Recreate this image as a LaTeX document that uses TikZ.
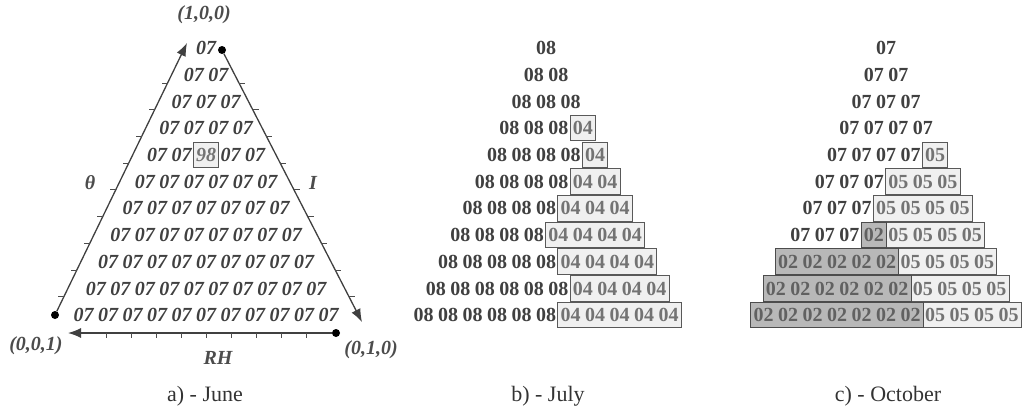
\documentclass[tikz,border=0pt]{standalone}
\usepackage{fontspec}
\setmainfont{Liberation Serif}
\usetikzlibrary{fit,arrows.meta,calc}
\pgfdeclarelayer{background}
\pgfsetlayers{background,main}
\tikzset{
  cell/.style={inner sep=0pt, minimum width=19pt, text height=13.5pt, text depth=0pt,
    font=\fontsize{20}{20}\selectfont\bfseries, text=black!75},
  boxcell/.style={cell, text=black!55},
  darkcell/.style={cell, text=black!62},
  acell/.style={cell, font=\fontsize{20}{20}\selectfont\bfseries\itshape},
  aboxcell/.style={acell, text=black!55},
  lightbox/.style={draw=black!65, fill=black!6, line width=0.9pt, inner xsep=2.5pt, inner ysep=5.8pt},
  darkbox/.style={draw=black!70, fill=black!28, line width=0.9pt, inner xsep=2.5pt, inner ysep=5.8pt},
  axis/.style={draw=black!75, line width=1.3pt},
  tip/.style={-{Latex[length=13pt,width=10pt]}},
  endpt/.style={circle, fill=black, inner sep=0pt, minimum size=8pt},
  coordlab/.style={font=\fontsize{20}{20}\selectfont\bfseries\itshape, text=black!70},
  caption/.style={font=\fontsize{22}{22}\selectfont, text=black!80},
  tick/.style={draw=black!70, line width=0.8pt},
}
\begin{document}
\begin{tikzpicture}[x=1pt,y=-1pt]
\useasboundingbox (0,0) rectangle (1025,416);

% ---- a) June ----
\foreach \row [count=\r] in {
  {07/acell},
  {07/acell,07/acell},
  {07/acell,07/acell,07/acell},
  {07/acell,07/acell,07/acell,07/acell},
  {07/acell,07/acell,98/aboxcell,07/acell,07/acell},
  {07/acell,07/acell,07/acell,07/acell,07/acell,07/acell},
  {07/acell,07/acell,07/acell,07/acell,07/acell,07/acell,07/acell},
  {07/acell,07/acell,07/acell,07/acell,07/acell,07/acell,07/acell,07/acell},
  {07/acell,07/acell,07/acell,07/acell,07/acell,07/acell,07/acell,07/acell,07/acell},
  {07/acell,07/acell,07/acell,07/acell,07/acell,07/acell,07/acell,07/acell,07/acell,07/acell},
  {07/acell,07/acell,07/acell,07/acell,07/acell,07/acell,07/acell,07/acell,07/acell,07/acell,07/acell}}
{
  \foreach \v/\s [count=\k] in \row
    \node[\s] (a-\r-\k) at ({206+(\k-(\r+1)/2)*24.5},{48+(\r-1)*26.7}) {\v};
}

% ---- b) July ----
\foreach \row [count=\r] in {
  {08/cell},
  {08/cell,08/cell},
  {08/cell,08/cell,08/cell},
  {08/cell,08/cell,08/cell,04/boxcell},
  {08/cell,08/cell,08/cell,08/cell,04/boxcell},
  {08/cell,08/cell,08/cell,08/cell,04/boxcell,04/boxcell},
  {08/cell,08/cell,08/cell,08/cell,04/boxcell,04/boxcell,04/boxcell},
  {08/cell,08/cell,08/cell,08/cell,04/boxcell,04/boxcell,04/boxcell,04/boxcell},
  {08/cell,08/cell,08/cell,08/cell,08/cell,04/boxcell,04/boxcell,04/boxcell,04/boxcell},
  {08/cell,08/cell,08/cell,08/cell,08/cell,08/cell,04/boxcell,04/boxcell,04/boxcell,04/boxcell},
  {08/cell,08/cell,08/cell,08/cell,08/cell,08/cell,04/boxcell,04/boxcell,04/boxcell,04/boxcell,04/boxcell}}
{
  \foreach \v/\s [count=\k] in \row
    \node[\s] (b-\r-\k) at ({546+(\k-(\r+1)/2)*24.5},{48+(\r-1)*26.7}) {\v};
}

% ---- c) October ----
\foreach \row [count=\r] in {
  {07/cell},
  {07/cell,07/cell},
  {07/cell,07/cell,07/cell},
  {07/cell,07/cell,07/cell,07/cell},
  {07/cell,07/cell,07/cell,07/cell,05/boxcell},
  {07/cell,07/cell,07/cell,05/boxcell,05/boxcell,05/boxcell},
  {07/cell,07/cell,07/cell,05/boxcell,05/boxcell,05/boxcell,05/boxcell},
  {07/cell,07/cell,07/cell,02/darkcell,05/boxcell,05/boxcell,05/boxcell,05/boxcell},
  {02/darkcell,02/darkcell,02/darkcell,02/darkcell,02/darkcell,05/boxcell,05/boxcell,05/boxcell,05/boxcell},
  {02/darkcell,02/darkcell,02/darkcell,02/darkcell,02/darkcell,02/darkcell,05/boxcell,05/boxcell,05/boxcell,05/boxcell},
  {02/darkcell,02/darkcell,02/darkcell,02/darkcell,02/darkcell,02/darkcell,02/darkcell,05/boxcell,05/boxcell,05/boxcell,05/boxcell}}
{
  \foreach \v/\s [count=\k] in \row
    \node[\s] (c-\r-\k) at ({886+(\k-(\r+1)/2)*24.5},{48+(\r-1)*26.7}) {\v};
}

% ---- cluster boxes behind the values ----
\begin{pgfonlayer}{background}
  \node[lightbox, fit=(a-5-3)] (boxa5) {};
  \node[lightbox, fit=(b-4-4)] (boxb4) {};
  \node[lightbox, fit=(b-5-5)] (boxb5) {};
  \node[lightbox, fit=(b-6-5)(b-6-6)] (boxb6) {};
  \node[lightbox, fit=(b-7-5)(b-7-7)] (boxb7) {};
  \node[lightbox, fit=(b-8-5)(b-8-8)] (boxb8) {};
  \node[lightbox, fit=(b-9-6)(b-9-9)] (boxb9) {};
  \node[lightbox, fit=(b-10-7)(b-10-10)] (boxb10) {};
  \node[lightbox, fit=(b-11-7)(b-11-11)] (boxb11) {};
  \node[lightbox, fit=(c-5-5)] (boxc5) {};
  \node[lightbox, fit=(c-6-4)(c-6-6)] (boxc6) {};
  \node[lightbox, fit=(c-7-4)(c-7-7)] (boxc7) {};
  \node[lightbox, fit=(c-8-5)(c-8-8)] (boxc8) {};
  \node[lightbox, fit=(c-9-6)(c-9-9)] (boxc9) {};
  \node[lightbox, fit=(c-10-7)(c-10-10)] (boxc10) {};
  \node[lightbox, fit=(c-11-8)(c-11-11)] (boxc11) {};
  \node[darkbox, fit=(c-8-4)] (dboxc8) {};
  \node[darkbox, fit=(c-9-1)(c-9-5)] (dboxc9) {};
  \node[darkbox, fit=(c-10-1)(c-10-6)] (dboxc10) {};
  \node[darkbox, fit=(c-11-1)(c-11-7)] (dboxc11) {};
\end{pgfonlayer}

% ---- ternary axes ----
\node[endpt] (p001) at (55,315) {};
\coordinate (q100) at (187,43);
\node[endpt] (p100) at (222,50) {};
\coordinate (q010) at (362,322);
\node[endpt] (p010) at (336,333) {};
\coordinate (q001) at (68,333);
\draw[axis,tip] (p001) -- (q100);
\draw[axis,tip] (p100) -- (q010);
\draw[axis,tip] (p010) -- (q001);

% ticks
\foreach \k in {0,...,8}{
  \pgfmathsetmacro\ty{83+26.7*\k}
  \draw[tick] ({55+(315-\ty)/272*132},\ty) -- ++(-6,0);
  \draw[tick] ({222+(\ty-50)/272*140},\ty) -- ++(6,0);
  \draw[tick] ({106+25*\k},333) -- ++(0,5);
}

% axis labels
\node[coordlab] (l100) at (204,15) {(1,0,0)};
\node[coordlab] (l001) at (36,346) {(0,0,1)};
\node[coordlab] (l010) at (371,350) {(0,1,0)};
\node[coordlab] (ltheta) at (90,183) {θ};
\node[coordlab] (lI) at (313,183) {I};
\node[coordlab] (lRH) at (218,358) {RH};

% captions
\node[caption] (capa) at (205,396) {a) - June};
\node[caption] (capb) at (548,396) {b) - July};
\node[caption] (capc) at (888,396) {c) - October};
\end{tikzpicture}
\end{document}
